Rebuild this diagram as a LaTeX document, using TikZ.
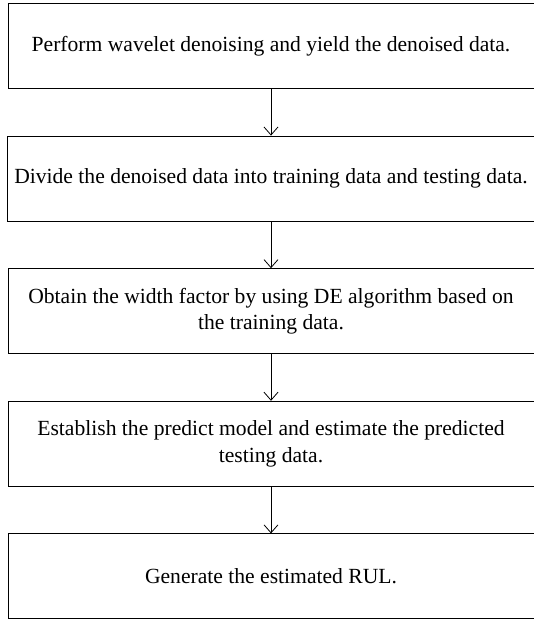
\documentclass[tikz,border=0pt]{standalone}
\usepackage{fontspec}
\setmainfont{Liberation Serif}
\usetikzlibrary{positioning,arrows.meta}
\tikzstyle{stepbox} = [rectangle, minimum width=263pt, minimum height=42.5pt, text centered, align=center, draw=black, line width=0.5pt, font=\fontsize{10.8}{13.2}\selectfont]
\tikzstyle{arrow} = [line width=0.4pt,-{Straight Barb[length=4pt,width=7pt]}]

\begin{document}
\begin{tikzpicture}[node distance=23.3pt]
\useasboundingbox (0,0) rectangle (267pt,-311pt);

\node (denoise) [stepbox] at (135.5pt,-23pt) {Perform wavelet denoising and yield the denoised data.};
\node (divide) [stepbox, below=of denoise] {Divide the denoised data into training data and testing data.};
\node (width) [stepbox, below=of divide] {Obtain the width factor by using DE algorithm based on\\the training data.};
\node (model) [stepbox, below=of width] {Establish the predict model and estimate the predicted\\testing data.};
\node (rul) [stepbox, below=of model] {Generate the estimated RUL.};
\draw [arrow] (denoise) -- (divide);
\draw [arrow] (divide) -- (width);
\draw [arrow] (width) -- (model);
\draw [arrow] (model) -- (rul);

\end{tikzpicture}
\end{document}
